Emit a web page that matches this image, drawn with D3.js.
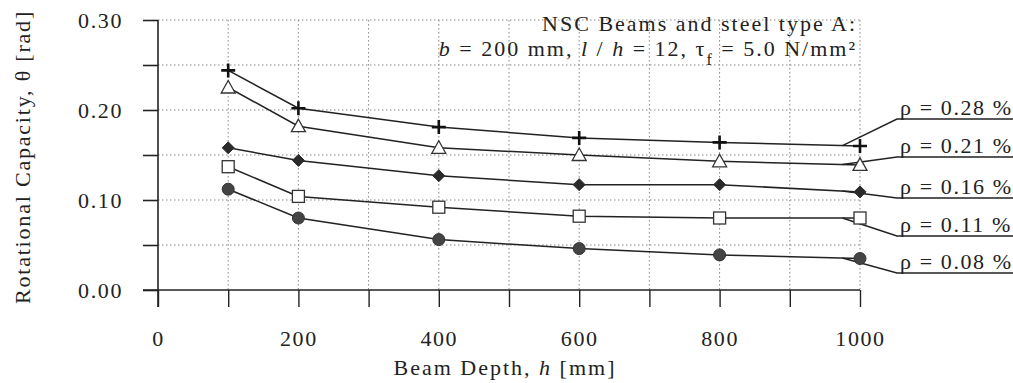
<!DOCTYPE html>
<html><head><meta charset="utf-8">
<script src="https://cdn.jsdelivr.net/npm/d3@7"></script>
<style>
html,body{margin:0;padding:0;background:#fff;}
</style></head>
<body><svg id="c" width="1013" height="383"></svg>
<script>
// ---- data ----
const depths = [100, 200, 400, 600, 800, 1000];
const rho028 = [0.244, 0.202, 0.181, 0.169, 0.164, 0.160];
const rho021 = [0.225, 0.182, 0.158, 0.150, 0.143, 0.139];
const rho016 = [0.158, 0.144, 0.127, 0.117, 0.117, 0.109];
const rho011 = [0.137, 0.104, 0.092, 0.082, 0.080, 0.080];
const rho008 = [0.112, 0.080, 0.056, 0.046, 0.039, 0.035];
const seriesLabels = ["ρ = 0.28 %", "ρ = 0.21 %", "ρ = 0.16 %", "ρ = 0.11 %", "ρ = 0.08 %"];
const markerTypes = ["plus", "triangle", "diamond", "square", "circle"];
const yTicks = [0.00, 0.10, 0.20, 0.30];
const yMinorTicks = [0.05, 0.15, 0.25];
const xTicks = [0, 200, 400, 600, 800, 1000];
const xMinorTicks = [100, 300, 500, 700, 900];

const seriesValues = [rho028, rho021, rho016, rho011, rho008];

// ---- layout ----
const FONT = "'Liberation Serif', 'Times New Roman', Times, serif";
const L = 158, R = 860, T = 20, B = 290;
const labelUnderlineY = [119, 157, 198, 236, 273];
const svg = d3.select("#c");
const x = d3.scaleLinear().domain([0, 1000]).range([L, R]);
const y = d3.scaleLinear().domain([0, 0.30]).range([B, T]);
const ink = "#222";

// grid
const g = svg.append("g");
const allY = yTicks.concat(yMinorTicks).filter(v => v > 0);
g.selectAll("line.hg").data(allY).join("line")
  .attr("x1", L).attr("x2", R).attr("y1", d => y(d)).attr("y2", d => y(d))
  .attr("stroke", "#888").attr("stroke-width", 1).attr("stroke-dasharray", "1.5,2.5");
const allX = xTicks.concat(xMinorTicks).filter(v => v > 0);
g.selectAll("line.vg").data(allX).join("line")
  .attr("x1", d => x(d)).attr("x2", d => x(d)).attr("y1", T).attr("y2", B)
  .attr("stroke", "#888").attr("stroke-width", 1).attr("stroke-dasharray", "1.5,2.5");

// axes
const yAxis = d3.axisLeft(y).tickValues(yTicks.concat(yMinorTicks)).tickSize(15)
  .tickFormat(d => yTicks.some(t => Math.abs(t - d) < 1e-9) ? d3.format(".2f")(d) : "");
const ya = svg.append("g").attr("transform", `translate(${L},0)`).call(yAxis)
  .attr("font-family", FONT).attr("font-size", 22);
ya.select(".domain").remove();
ya.selectAll(".tick line").attr("stroke", ink).attr("stroke-width", 1.6);
ya.selectAll(".tick text").attr("x", -35).attr("dy", "0.35em")
  .style("letter-spacing", "1.6px").attr("fill", ink);
svg.append("line").attr("x1", L).attr("x2", L).attr("y1", T).attr("y2", B + 17)
  .attr("stroke", ink).attr("stroke-width", 1.6);

const xAxis = d3.axisBottom(x).tickValues(xTicks.concat(xMinorTicks)).tickSize(17)
  .tickFormat(d => xTicks.includes(d) ? d : "");
const xa = svg.append("g").attr("transform", `translate(0,${B})`).call(xAxis)
  .attr("font-family", FONT).attr("font-size", 22);
xa.select(".domain").remove();
xa.selectAll(".tick line").attr("stroke", ink).attr("stroke-width", 1.4);
xa.selectAll(".tick text").attr("y", 48).attr("dy", "0.35em")
  .style("letter-spacing", "1.6px").attr("fill", ink);
svg.append("line").attr("x1", L - 15).attr("x2", R).attr("y1", B).attr("y2", B)
  .attr("stroke", ink).attr("stroke-width", 1.6);

function txt(sel) {
  return sel.attr("font-family", FONT).attr("font-size", 22).attr("fill", ink);
}

// axis titles
txt(svg.append("text")).attr("x", 505).attr("y", 375).attr("text-anchor", "middle")
  .style("letter-spacing", "2px")
  .html('Beam Depth, <tspan font-style="italic">h</tspan>  [mm]');
txt(svg.append("text")).attr("transform", "translate(30,157) rotate(-90)").attr("text-anchor", "middle")
  .style("letter-spacing", "1.8px")
  .text("Rotational Capacity, θ [rad]");

// annotation
txt(svg.append("text")).attr("x", 857).attr("y", 31).attr("text-anchor", "end")
  .style("letter-spacing", "2px")
  .text("NSC Beams and steel type A:");
const ann2 = txt(svg.append("text")).attr("x", 857).attr("y", 56).attr("text-anchor", "end")
  .style("letter-spacing", "2px");
ann2.append("tspan").attr("font-style", "italic").text("b");
ann2.append("tspan").text(" = 200 mm, ");
ann2.append("tspan").attr("font-style", "italic").text("l");
ann2.append("tspan").text(" / ");
ann2.append("tspan").attr("font-style", "italic").text("h");
ann2.append("tspan").text(" = 12,  τ");
ann2.append("tspan").attr("dy", 9).attr("font-size", 16).text("f");
ann2.append("tspan").attr("dy", -9).text(" = 5.0 N/mm²");

// series
const line = d3.line().x((d, i) => x(depths[i])).y(d => y(d));
seriesValues.forEach((vals) => {
  svg.append("path").attr("d", line(vals)).attr("fill", "none")
    .attr("stroke", ink).attr("stroke-width", 1.5);
});

// leaders + labels
seriesValues.forEach((vals, si) => {
  const hx = 975;
  const n = vals.length;
  const yv = vals[n - 2] + (vals[n - 1] - vals[n - 2]) * (hx - depths[n - 2]) / (depths[n - 1] - depths[n - 2]);
  const uy = labelUnderlineY[si];
  svg.append("polyline")
    .attr("points", `${x(hx)},${y(yv)} 897,${uy} 1013,${uy}`)
    .attr("fill", "none").attr("stroke", ink).attr("stroke-width", 1.5);
  txt(svg.append("text")).attr("x", 900).attr("y", uy - 4)
    .style("letter-spacing", "1.6px")
    .text(seriesLabels[si]);
});

// markers
seriesValues.forEach((vals, si) => {
  const t = markerTypes[si];
  const gg = svg.append("g");
  vals.forEach((v, i) => {
    const cx = x(depths[i]), cy = y(v);
    if (t === "plus") {
      gg.append("path").attr("d", `M${cx - 7},${cy}H${cx + 7}M${cx},${cy - 7}V${cy + 7}`)
        .attr("stroke", "#111").attr("stroke-width", 2.6);
    } else if (t === "triangle") {
      gg.append("path").attr("d", `M${cx},${cy - 7}L${cx + 7},${cy + 5.5}L${cx - 7},${cy + 5.5}Z`)
        .attr("fill", "#fff").attr("stroke", "#333").attr("stroke-width", 1.3);
    } else if (t === "diamond") {
      gg.append("path").attr("d", `M${cx},${cy - 6}L${cx + 6},${cy}L${cx},${cy + 6}L${cx - 6},${cy}Z`)
        .attr("fill", "#2a2a2a").attr("stroke", "#2a2a2a").attr("stroke-width", 1);
    } else if (t === "square") {
      gg.append("rect").attr("x", cx - 6).attr("y", cy - 6).attr("width", 12).attr("height", 12)
        .attr("fill", "#fff").attr("stroke", "#333").attr("stroke-width", 1.3);
    } else {
      gg.append("circle").attr("cx", cx).attr("cy", cy).attr("r", 6)
        .attr("fill", "#444").attr("stroke", "#333").attr("stroke-width", 1);
    }
  });
});
</script></body></html>
